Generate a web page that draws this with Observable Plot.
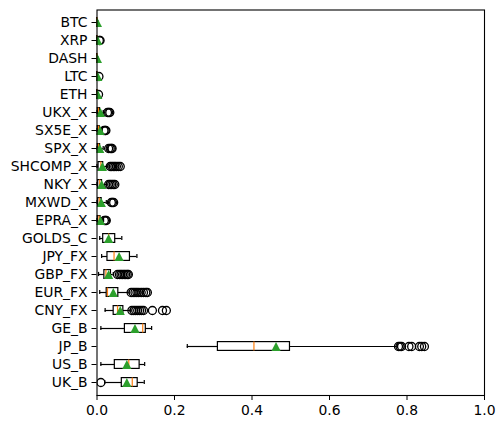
<!DOCTYPE html>
<html>
<head>
<meta charset="utf-8">
<script src="https://cdn.jsdelivr.net/npm/d3@7"></script>
<script src="https://cdn.jsdelivr.net/npm/@observablehq/plot@0.6"></script>
<style>
  html, body { margin: 0; padding: 0; background: white; }
</style>
</head>
<body>
<div id="chart"></div>
<script>
const categories = ["BTC","XRP","DASH","LTC","ETH","UKX_X","SX5E_X","SPX_X","SHCOMP_X","NKY_X","MXWD_X","EPRA_X","GOLDS_C","JPY_FX","GBP_FX","EUR_FX","CNY_FX","GE_B","JP_B","US_B","UK_B"];
const whiskLo = [0,0,0,0,0,0,0,0,0,0,0,0,0.007,0.012,0.004,0.007,0.021,0.010,0.233,0.010,0.020];
const q1      = [0.0003,0.0004,0.0003,0.0004,0.0004,0.002,0.002,0.002,0.004,0.003,0.003,0.002,0.016,0.027,0.019,0.025,0.043,0.072,0.312,0.046,0.064];
const median  = [0.0006,0.0008,0.0006,0.0008,0.0008,0.004,0.004,0.004,0.010,0.007,0.006,0.005,0.030,0.044,0.023,0.027,0.053,0.118,0.405,0.082,0.091];
const q3      = [0.001,0.0015,0.001,0.0015,0.0015,0.008,0.007,0.008,0.016,0.013,0.012,0.009,0.047,0.085,0.036,0.055,0.068,0.126,0.498,0.110,0.105];
const whiskHi = [0.002,0.003,0.002,0.003,0.003,0.016,0.013,0.016,0.028,0.025,0.024,0.017,0.064,0.103,0.042,0.083,0.087,0.141,0.775,0.123,0.122];
const means   = [0.001,0.002,0.001,0.002,0.002,0.009,0.008,0.007,0.014,0.012,0.011,0.009,0.030,0.057,0.030,0.042,0.060,0.098,0.462,0.077,0.077];
const fliers  = [
  [],
  [0.006,0.008],
  [],
  [0.005],
  [0.004],
  [0.027,0.030,0.033],
  [0.018,0.021,0.023],
  [0.030,0.034,0.037,0.039],
  [0.034,0.038,0.042,0.046,0.050,0.055,0.060],
  [0.030,0.034,0.038,0.042,0.046],
  [0.037,0.040,0.043],
  [0.019,0.022,0.024],
  [],
  [],
  [0.053,0.058,0.062,0.066,0.070,0.074,0.078,0.081],
  [0.088,0.093,0.098,0.103,0.108,0.114,0.120,0.126,0.130],
  [0.090,0.095,0.100,0.105,0.110,0.115,0.120,0.143,0.169,0.179],
  [],
  [0.778,0.782,0.786,0.805,0.812,0.832,0.838,0.845],
  [],
  [0.010]
];
const xTicks = [0, 0.2, 0.4, 0.6, 0.8, 1.0];

const rows = categories.map((c, i) => ({cat: c, lo: whiskLo[i], q1: q1[i], med: median[i], q3: q3[i], hi: whiskHi[i], mean: means[i]}));
const flierRows = categories.flatMap((c, i) => fliers[i].map(v => ({cat: c, v})));

const tri = {
  draw(ctx, size) {
    const r = Math.sqrt(size / Math.PI);
    ctx.moveTo(0, -r);
    ctx.lineTo(r, r);
    ctx.lineTo(-r, r);
    ctx.closePath();
  }
};

const chart = Plot.plot({
  width: 504,
  height: 428,
  marginLeft: 96.5,
  marginRight: 20,
  marginTop: 9.5,
  marginBottom: 33,
  style: {fontFamily: "DejaVu Sans", fontSize: "13.9px", color: "black", background: "white"},
  x: {domain: [0, 1]},
  y: {domain: categories, type: "band", padding: 0},
  marks: [
    Plot.ruleY(rows, {y: "cat", x1: "lo", x2: "q1", stroke: "black", strokeWidth: 1.2}),
    Plot.ruleY(rows, {y: "cat", x1: "q3", x2: "hi", stroke: "black", strokeWidth: 1.2}),
    Plot.tickX(rows, {y: "cat", x: "lo", stroke: "black", strokeWidth: 1.2, insetTop: 6.9, insetBottom: 6.9}),
    Plot.tickX(rows, {y: "cat", x: "hi", stroke: "black", strokeWidth: 1.2, insetTop: 6.9, insetBottom: 6.9}),
    Plot.barX(rows, {y: "cat", x1: "q1", x2: "q3", fill: "none", stroke: "black", strokeWidth: 1.2, insetTop: 4.6, insetBottom: 4.6}),
    Plot.tickX(rows, {y: "cat", x: "med", stroke: "#ff7f0e", strokeWidth: 1.2, insetTop: 4.6, insetBottom: 4.6}),
    Plot.dot(flierRows, {x: "v", y: "cat", r: 4, fill: "none", stroke: "black", strokeWidth: 1.3, clip: true}),
    Plot.dot(rows, {x: "mean", y: "cat", r: 4.6, symbol: tri, fill: "#2ca02c", stroke: "none", clip: true}),
    Plot.frame({stroke: "black", strokeWidth: 1.1}),
    Plot.axisY({tickSize: 5, tickPadding: 4.5, label: null}),
    Plot.axisX({ticks: xTicks, tickFormat: ".1f", tickSize: 5, tickPadding: 5, label: null})
  ]
});
document.getElementById("chart").appendChild(chart);
</script>
</body>
</html>
